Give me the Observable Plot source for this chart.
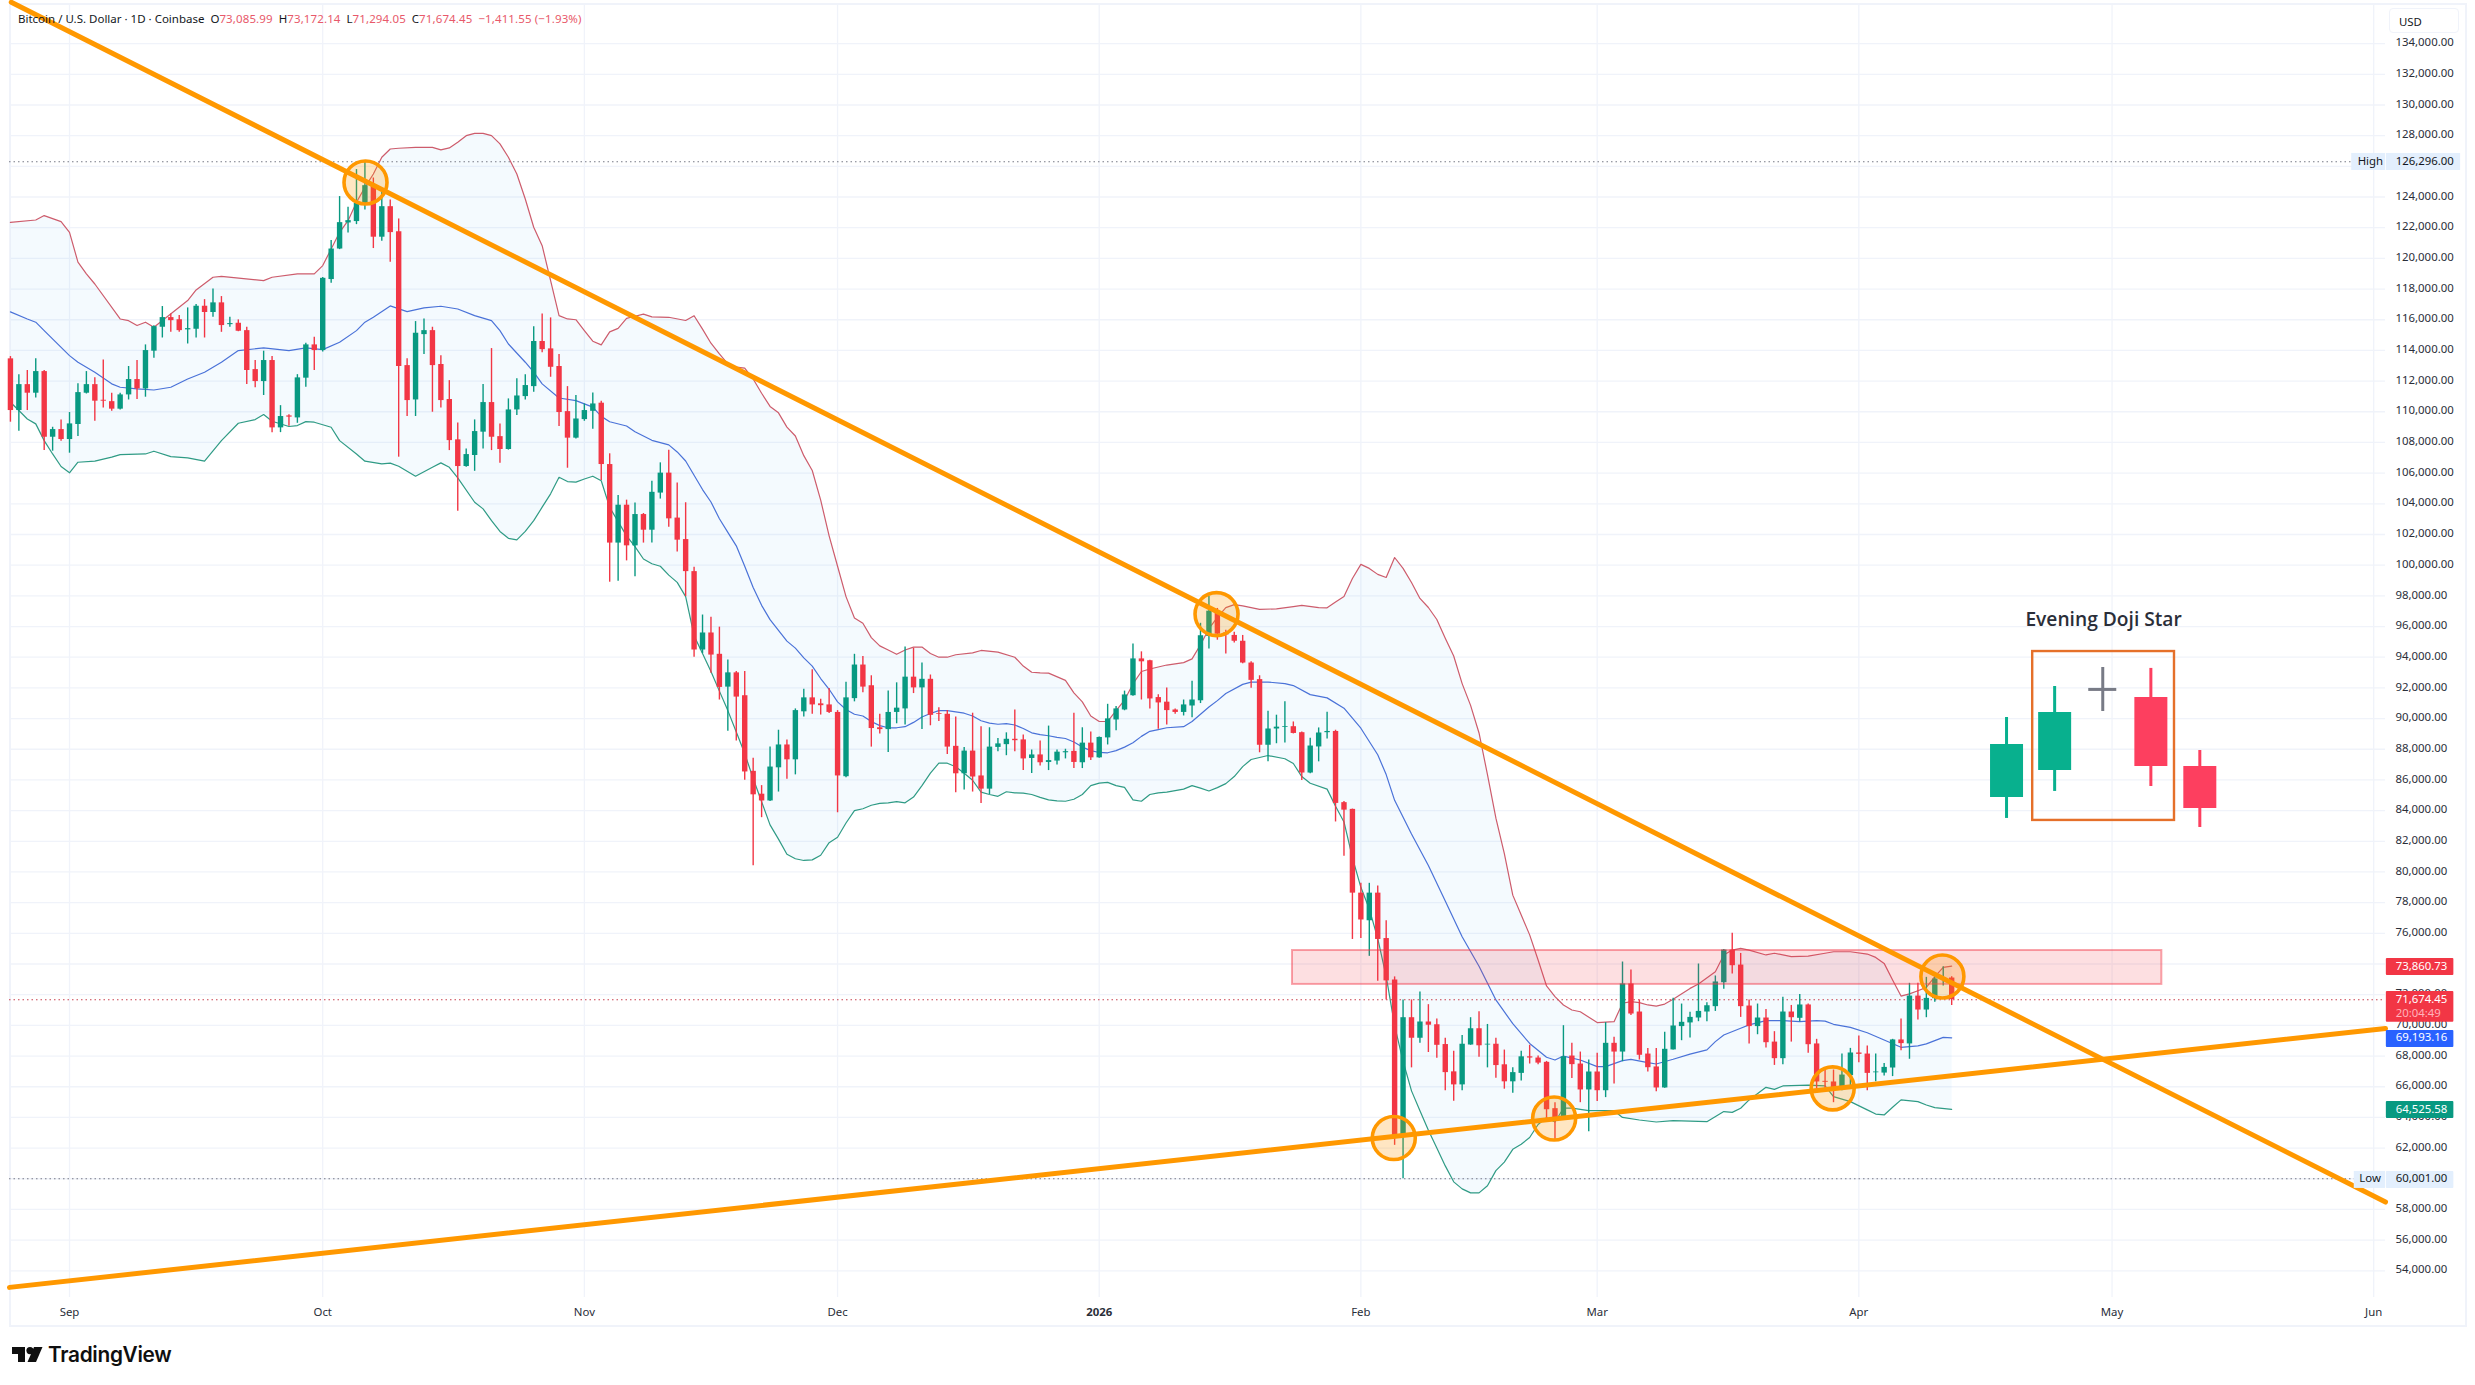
<!DOCTYPE html>
<html><head><meta charset="utf-8">
<script src="https://cdn.jsdelivr.net/npm/d3@7"></script>
<script src="https://cdn.jsdelivr.net/npm/@observablehq/plot@0.6"></script>
<style>
html,body{margin:0;padding:0;background:#fff;width:2475px;height:1385px;overflow:hidden;font-family:"Noto Sans",sans-serif}
#frame{position:absolute;left:9px;top:3px;width:2454px;height:1320px;border:2px solid #f0f3fa;box-sizing:content-box}
#chart{position:absolute;left:0;top:0}
#legend{position:absolute;left:18px;top:11px;font-size:11.5px;line-height:16px;color:#131722;white-space:pre}
#legend .v{color:#e8596a;letter-spacing:.12px}
#usd{position:absolute;left:2389px;top:8px;width:70px;height:25px;background:#fff;border:1px solid #f0f3fa;border-radius:4px;font-size:11.4px;line-height:25px;color:#131722;box-sizing:border-box;padding-left:9px}
#brand{position:absolute;left:48px;top:1341px;font-family:Inter,sans-serif;font-weight:600;font-size:20.8px;line-height:28px;color:#0f0f0f;letter-spacing:-.3px}
#logo{position:absolute;left:12px;top:1347px}
</style></head><body>
<div id="frame"></div>
<div id="chart"></div>
<div id="legend">Bitcoin / U.S. Dollar · 1D · Coinbase  O<span class="v">73,085.99</span>  H<span class="v">73,172.14</span>  L<span class="v">71,294.05</span>  C<span class="v">71,674.45</span>  <span class="v">−1,411.55 (−1.93%)</span></div>
<div id="usd">USD</div>
<svg id="logo" width="31" height="16" viewBox="0 0 31 16"><path d="M0 0H13V15H6V7H0Z" fill="#0f0f0f"/><circle cx="18" cy="3.6" r="3.6" fill="#0f0f0f"/><path d="M22 0H30.5L24 15H15.5Z" fill="#0f0f0f"/></svg>
<div id="brand">TradingView</div>
<script>
// Prices in thousands of USD. Days count from 2025-09-01; candles run day -7 to day 223.
const firstCandleDay = -7;
const open = [
113.45,110.08,111.77,111.21,112.62,108.34,108.84,108.19,109.17,111.21,
111.77,110.75,110.66,110.17,111.10,112.10,111.49,113.95,115.51,116.14,
116.00,115.34,115.38,116.88,116.47,117.10,115.68,115.77,115.29,112.75,
111.97,113.34,108.95,109.73,109.60,112.19,114.36,113.99,118.62,120.61,
122.31,122.40,123.50,124.74,121.38,123.37,121.74,113.01,110.77,115.03,
115.29,113.08,110.80,108.17,106.43,107.15,108.67,110.60,108.38,107.54,
110.12,110.99,111.64,114.58,114.10,112.95,110.01,108.28,109.49,110.03,
110.56,106.56,101.44,103.91,101.26,103.30,102.28,104.70,106.00,103.07,
101.67,99.58,94.47,95.58,94.19,92.05,92.98,91.49,86.56,85.07,
84.63,86.79,88.28,87.31,90.44,91.35,90.96,90.89,90.40,86.21,
91.30,93.49,92.14,89.40,89.28,90.40,90.63,92.70,92.00,92.56,
90.33,90.28,88.19,86.40,87.88,86.26,85.40,88.12,88.30,88.65,
88.61,87.40,87.63,87.14,87.23,87.77,87.86,87.12,88.40,87.44,
88.74,89.91,90.56,91.49,93.89,93.77,91.37,91.07,90.56,90.40,
90.82,91.16,95.35,96.97,95.58,95.42,95.04,93.62,92.54,88.26,
89.32,89.42,89.47,89.08,86.45,88.15,89.08,89.16,84.52,84.08,
78.62,76.82,78.62,75.66,72.95,62.69,70.50,69.16,70.22,70.04,
68.75,66.97,66.12,68.72,69.78,68.72,68.77,67.43,66.32,66.87,
67.95,67.87,67.59,64.57,63.98,68.00,67.48,65.79,66.96,65.74,
68.83,68.26,72.70,70.87,68.13,67.29,65.92,68.40,69.92,70.16,
70.48,70.87,71.22,72.78,74.91,73.93,71.26,69.92,70.48,68.91,
67.83,70.87,70.46,71.33,68.79,66.35,66.31,65.90,66.72,68.20,
68.13,66.91,66.89,67.22,69.05,68.79,71.91,71.00,71.74,73.00,
73.086];
const high = [
113.60,112.42,112.69,113.45,112.69,108.99,109.47,109.95,111.82,112.62,
112.21,113.38,111.21,111.21,112.95,113.34,114.36,115.60,116.86,116.38,
116.27,116.77,116.99,117.31,118.01,117.51,116.16,115.99,115.51,113.34,
113.95,113.60,110.40,109.80,112.42,114.47,114.86,118.75,121.16,124.03,
123.33,125.79,126.296,125.24,124.31,123.81,122.57,113.45,115.88,116.05,
115.51,113.66,112.03,109.27,107.58,109.47,111.77,114.12,109.21,110.84,
112.16,112.42,115.55,116.38,116.12,113.73,111.64,111.06,110.51,111.23,
110.68,107.26,104.54,104.24,104.05,103.37,105.47,106.67,107.49,105.35,
104.07,99.86,96.75,96.61,95.96,93.82,93.07,93.07,87.42,85.63,
88.14,89.24,88.61,90.63,91.91,93.19,91.26,91.96,90.52,92.37,
94.19,94.05,92.79,90.28,91.79,92.33,94.66,94.58,93.63,92.84,
90.70,90.52,90.10,88.12,90.35,89.47,89.40,88.70,89.07,90.56,
88.93,87.95,88.54,89.51,87.95,88.00,90.35,89.40,89.12,88.80,
90.93,90.79,91.79,94.86,94.35,93.80,91.56,92.00,90.63,91.21,
92.44,96.21,97.95,97.18,95.76,95.63,95.42,93.70,92.79,90.47,
90.22,91.09,89.78,89.13,88.72,89.39,90.42,89.24,84.60,84.10,
79.26,79.26,79.08,76.82,73.16,71.66,71.66,72.18,71.35,70.42,
69.16,68.31,69.34,70.50,70.89,70.06,69.16,68.39,67.23,68.31,
68.70,68.00,67.65,64.96,69.98,68.83,68.26,67.74,68.18,70.18,
69.22,74.13,73.61,71.65,68.50,68.50,69.55,71.76,71.39,70.85,
74.00,71.48,73.22,74.95,76.00,74.69,71.65,71.39,71.04,69.59,
71.83,71.30,72.02,71.39,69.09,67.20,67.09,68.13,68.50,69.31,
68.65,68.13,67.52,69.09,70.41,72.74,72.74,73.13,73.43,73.82,
73.172];
const low = [
109.32,108.73,110.08,110.90,107.47,107.43,108.08,107.30,108.38,111.16,
109.38,110.25,110.03,110.12,110.77,110.80,110.95,113.49,114.81,115.18,
115.18,114.42,114.81,114.81,116.16,115.18,115.51,115.22,111.77,111.56,
111.06,108.64,108.64,109.06,109.25,111.60,112.69,113.90,118.38,120.57,
121.66,122.20,123.16,120.64,121.11,119.75,107.04,109.69,109.69,113.73,
109.97,110.25,107.47,103.52,106.38,106.12,107.58,107.47,106.65,107.50,
109.75,110.77,111.27,113.84,112.25,109.04,106.32,108.23,109.38,108.86,
105.52,98.89,98.96,100.28,99.24,101.44,101.44,104.31,102.47,100.86,
97.95,94.00,94.24,92.96,91.21,89.17,88.54,85.98,80.40,83.54,
84.60,85.21,86.05,86.33,90.10,90.28,90.23,90.33,83.86,86.15,
91.09,91.68,88.14,89.00,87.79,89.66,89.58,91.63,89.28,89.53,
89.81,87.65,85.16,85.35,85.21,84.47,85.05,87.84,87.58,87.84,
86.61,86.42,86.91,86.61,86.98,87.37,86.74,86.74,87.26,87.42,
88.28,89.21,90.51,91.45,91.21,90.63,89.30,89.58,90.28,90.17,
90.05,90.98,94.54,95.11,94.21,94.93,93.57,91.97,87.77,87.18,
88.36,88.41,89.00,85.96,86.40,87.18,88.67,83.26,81.02,75.60,
75.66,74.50,72.87,71.66,62.18,60.001,67.23,68.83,68.23,67.85,
65.73,65.06,65.73,68.70,67.92,67.23,66.56,65.84,65.58,66.38,
67.48,67.43,63.80,62.43,63.87,66.53,64.96,63.07,65.03,65.29,
66.18,67.63,70.65,67.74,66.96,65.68,65.90,68.40,69.00,69.18,
70.24,70.24,70.91,72.35,73.35,70.52,68.79,69.39,68.52,67.39,
67.44,68.91,70.24,68.18,65.57,65.74,64.96,65.74,65.90,67.57,
65.74,66.33,66.70,66.66,68.35,67.79,70.35,70.50,71.50,72.57,
71.294];
const close = [
110.08,111.77,111.21,112.62,108.34,108.84,108.19,109.21,111.25,111.77,
110.69,110.69,110.17,111.10,112.10,111.49,113.99,115.55,116.14,115.94,
115.29,115.42,116.88,116.47,117.10,115.62,115.75,115.25,112.69,111.97,
113.34,108.95,109.69,109.65,112.21,114.36,113.99,118.70,120.61,122.33,
122.46,123.59,124.74,121.38,123.37,121.68,112.95,110.73,115.12,115.29,
113.01,110.73,108.12,106.43,107.21,108.71,110.60,108.34,107.54,110.12,
111.03,111.71,114.58,114.05,112.90,109.95,108.28,109.53,110.08,110.51,
106.56,101.44,103.91,101.26,103.30,102.28,104.75,106.00,103.02,101.63,
99.58,94.47,95.58,94.14,92.03,92.98,91.40,86.52,85.03,84.63,
86.84,88.28,87.31,90.52,91.35,90.89,90.84,90.40,86.26,91.35,
93.49,92.05,89.35,89.28,90.40,90.68,92.70,92.00,92.56,90.21,
90.28,88.14,86.40,87.88,86.19,85.40,88.14,88.35,88.65,88.56,
87.37,87.63,87.12,87.26,87.81,87.84,87.14,88.40,87.44,88.77,
89.98,90.63,91.54,93.89,93.70,91.28,91.02,90.52,90.40,90.89,
91.21,95.40,97.00,95.50,95.45,95.04,93.62,92.49,88.26,89.32,
89.44,89.47,89.03,86.45,88.21,89.06,89.16,84.47,84.03,78.62,
76.87,78.62,75.60,72.90,62.69,70.50,69.16,70.22,70.01,68.70,
66.92,66.12,68.77,69.78,68.67,68.77,67.38,66.32,66.92,67.95,
67.87,67.54,64.50,63.98,67.95,67.44,65.79,66.96,65.74,68.83,
68.26,72.70,70.74,68.05,67.24,65.92,68.44,69.96,70.20,70.52,
70.91,71.28,72.83,74.91,73.89,71.22,69.92,70.48,68.87,67.83,
70.87,70.50,71.33,68.74,66.31,66.29,65.90,66.76,68.20,68.11,
66.87,66.96,67.26,69.05,68.81,71.91,71.00,71.76,73.02,73.09,
71.674];

const upperDays = [-7,-4,-3,-1,0,1,2,3,6,7,8,9,10,14,15,17,18,23,24,27,29,30,31,32,33,34,35,36,37,38,39,41,43,44,45,46,47,48,49,50,51,52,53,54,55,56,57,58,59,60,61,62,63,64,65,66,67,68,69,71,73,74,75,76,77,78,79,80,81,82,83,84,85,86,87,88,89,90,91,92,93,94,95,96,97,98,99,100,101,102,103,104,105,107,108,110,112,113,114,115,116,118,119,120,121,122,123,124,125,126,127,128,130,132,133,134,135,136,137,138,139,141,143,145,146,148,149,150,151,152,153,154,155,156,157,158,159,160,161,162,163,164,165,166,167,168,169,170,171,172,173,174,175,176,177,178,179,181,183,184,185,186,187,188,189,190,192,193,195,196,197,198,199,201,202,204,206,208,209,211,213,214,215,216,217,218,219,220,221,222,223];
const upperBand = [122.35,122.5,122.79,122.4,121.7,119.75,118.99,118.33,116.05,115.94,115.62,115.84,115.51,117.25,117.94,118.77,118.83,118.55,118.77,118.99,118.99,119.53,120.61,121.7,122.46,123.66,124.63,125.5,126.59,127.13,127.18,127.24,127.24,127.07,127.2,127.57,128,128.15,128.15,128,127.46,126.59,125.5,123.87,122.03,120.83,118.55,116.27,116.05,116.0,115.29,114.6,114.36,115.21,115.44,116.09,116.23,116.37,116.19,116.16,115.95,116.26,115.39,114.47,113.77,113.12,112.91,112.84,112.14,111.21,110.35,109.93,109.0,108.42,107.14,106.17,104.24,101.91,99.93,97.95,96.56,96.21,95.28,94.74,94.47,94.19,94.47,94.66,94.66,94.24,94.0,94.0,94.16,94.28,94.44,94.33,94.0,93.42,93.02,92.98,92.96,92.49,91.68,91.09,90.17,89.81,89.81,90.52,91.21,92.26,93.07,93.23,93.49,93.65,93.89,94.81,95.86,96.6,97.23,97.43,97.35,97.12,97.15,97.3,97.38,97.23,97.22,97.6,97.96,99.13,100.05,99.79,99.4,99.2,100.5,99.79,98.87,97.83,97.24,96.46,95.24,94.08,92.28,90.86,89.06,86.35,83.51,81.2,78.49,77.2,75.9,74.26,72.57,71.87,71.33,71.0,70.89,70.18,70.24,71.44,71.55,71.48,71.33,71.26,71.39,71.7,72.41,72.7,73.5,74.59,74.91,75.02,74.91,74.59,74.7,74.48,74.52,74.7,74.8,74.8,74.65,74.43,74.04,72.96,71.91,72.05,72.26,72.48,73.18,73.78,73.86];
const midDays = [-7,-5,-4,-3,0,1,3,5,6,8,10,12,14,16,18,20,23,26,28,30,32,34,35,36,38,40,42,44,46,48,50,51,52,54,55,56,58,60,62,63,64,66,67,69,71,72,73,74,75,76,77,78,79,80,81,82,83,84,85,86,87,88,89,90,91,92,93,94,95,96,97,98,99,100,101,102,103,104,105,106,107,108,109,110,111,112,113,114,115,116,117,118,119,120,121,122,123,124,125,126,127,128,129,130,132,133,134,135,136,137,139,140,142,144,145,147,149,151,153,155,156,157,159,161,163,165,167,169,171,173,175,176,177,179,181,182,184,185,187,188,190,192,194,195,196,198,199,201,203,205,207,208,209,211,213,215,217,219,220,222,223];
const midBand = [116.51,116.05,115.84,115.29,113.66,113.23,112.58,111.82,111.6,111.49,111.42,111.6,112.14,112.58,113.23,113.99,114.16,113.99,114.16,114.05,114.53,115.29,115.84,116.16,116.9,116.53,116.77,116.88,116.7,116.27,115.94,115.29,114.42,113.23,112.58,111.82,110.9,110.73,110.3,109.7,109.35,109.07,108.7,108.14,107.84,107.38,106.79,105.86,104.93,104.12,103.03,102.14,101.26,99.93,98.54,97.38,96.45,95.75,95.05,94.59,93.96,93.42,92.61,91.91,91.09,90.59,90.28,90.17,89.81,89.54,89.4,89.4,89.47,89.75,90.1,90.33,90.52,90.52,90.44,90.35,90.17,89.86,89.7,89.63,89.67,89.58,89.35,89.07,88.95,88.88,88.77,88.7,88.47,88.14,87.91,87.79,87.77,87.91,88.14,88.42,88.84,89.17,89.28,89.4,89.47,89.81,90.28,90.75,91.17,91.63,92.23,92.38,92.38,92.28,92.15,91.56,91.35,90.68,89.37,87.64,86.35,84.67,82.48,80.42,78.1,75.78,73.85,71.66,70.11,68.82,67.92,67.74,68.0,67.74,67.31,67.31,67.7,67.78,67.57,67.48,67.79,68.13,68.4,68.94,69.37,69.81,70.03,70.31,70.31,70.24,70.31,70.28,70.07,69.87,69.52,69.05,68.57,68.66,68.79,69.22,69.19];
const lowerDays = [-7,-6,-5,-4,-3,-2,-1,0,1,3,5,6,9,10,12,14,16,18,20,22,23,24,26,27,28,29,31,32,34,35,37,38,39,41,43,44,45,46,48,49,50,51,52,53,54,55,56,57,58,59,60,61,62,63,64,65,66,67,68,69,70,71,72,73,74,75,76,77,78,79,80,81,82,83,84,85,86,87,88,89,90,91,92,93,94,95,96,97,98,99,100,101,102,103,104,105,106,107,108,109,110,111,112,113,114,115,116,117,118,119,120,121,122,123,124,125,126,127,128,129,130,132,133,134,135,136,137,138,139,140,142,144,145,146,147,149,150,151,152,153,154,155,156,157,158,159,160,161,162,163,164,165,166,167,168,169,170,171,172,173,174,175,176,177,178,180,183,184,186,188,190,194,196,197,198,199,201,202,203,206,208,209,211,213,214,215,216,217,219,220,221,223];
const lowerBand = [110.62,110.08,109.53,109.21,108.12,107.25,106.43,106.02,106.71,106.78,107.04,107.21,107.25,107.43,107.08,107.0,106.78,108.12,109.25,109.49,109.82,109.38,109.04,109.1,109.36,109.32,108.99,108.12,107.25,106.78,106.6,106.65,106.45,105.8,106.38,106.67,106.38,105.69,104.1,103.67,102.9,102.2,101.75,101.65,102.2,102.9,103.78,104.65,105.73,105.45,105.41,105.62,105.8,105.5,103.77,102.84,101.91,101.21,100.4,100.09,99.93,99.35,98.88,97.95,95.4,94.24,93.07,91.79,90.52,89.12,87.72,86.09,84.58,83.07,82.14,81.15,80.86,80.75,80.79,81.09,81.91,82.26,83.19,84.0,84.12,84.35,84.47,84.51,84.58,84.51,84.88,85.63,86.44,87.09,87.09,86.86,86.44,85.98,85.21,85.05,84.93,85.23,85.16,85.14,85.05,84.86,84.7,84.63,84.61,84.74,85.05,85.63,85.79,85.84,85.63,85.51,84.7,84.61,85.05,85.16,85.21,85.4,85.63,85.47,85.28,85.5,85.76,86.22,86.87,87.33,87.59,87.38,87.07,86.22,85.78,85.4,84.29,83.26,80.94,79.0,77.59,75.65,73.2,69.99,67.66,65.73,64.44,63.16,62.0,60.84,59.8,59.34,59.08,59.08,59.55,60.53,61.09,61.92,62.25,62.69,63.54,63.98,63.7,64.6,64.6,64.44,64.44,64.0,63.83,63.7,63.79,63.72,64.38,64.33,64.6,65.14,65.96,65.83,66.05,66.11,66.05,65.35,65.03,64.49,64.22,64.16,64.66,65.14,65.03,64.81,64.64,64.53];

const trendDays = [-6.9, 274.4];
const fallingTrend = [136.7, 58.48];
const risingTrend = [52.92, 69.8];
const circleDays = [35.07,135.9,156.9,175.9,208.9,221.9];
const circlePrices = [124.95,96.81,62.66,63.93,65.89,73.19];
const zoneDays = [144.9, 247.9];
const zonePrices = [72.67, 74.88];

const insetDays = [229.5,235.2,240.9,246.6,252.4];
const insetOpen = [84.86,86.62,91.9,91.38,86.88];
const insetHigh = [90.07,92.09,93.33,93.27,87.92];
const insetLow = [83.49,85.25,90.46,85.57,82.9];
const insetClose = [88.31,90.4,91.9,86.88,84.14];
const insetBoxDays = [232.6, 249.4];
const insetBoxPrices = [83.36, 94.37];
const insetTitle = "Evening Doji Star";

const priceTicks = d3.range(54, 136, 2);
const monthLabels = [["2025-09-01","Sep"],["2025-10-01","Oct"],["2025-11-01","Nov"],["2025-12-01","Dec"],["2026-02-01","Feb"],["2026-03-01","Mar"],["2026-04-01","Apr"],["2026-05-01","May"],["2026-06-01","Jun"]];
const yearLabel = [["2026-01-01","2026"]];

const lastTags = [
 {p:73.86, top:74.36, bot:73.25, text:"73,860.73", fill:"#f23645", color:"#fff"},
 {p:71.674, top:72.2, bot:70.2, text:"71,674.45", fill:"#f23645", color:"#fff", shift:-1},
 {p:69.19, top:69.67, bot:68.56, text:"69,193.16", fill:"#2962ff", color:"#fff"},
 {p:64.53, top:65.04, bot:63.93, text:"64,525.58", fill:"#089981", color:"#fff"},
 {p:60.001, top:60.48, bot:59.37, text:"60,001.00", fill:"#e3effd", color:"#131722"}
];
const highTag = {p:126.296, top:126.84, bot:125.73, text:"126,296.00", fill:"#e3effd", color:"#131722"};

const DAY = 864e5, T0 = Date.UTC(2025,8,1);
const day = n => new Date(T0 + n*DAY);
const GREEN="#089981", RED="#f23645", ORANGE="#ff9800";
const candles = open.map((o,i)=>({t:day(firstCandleDay+i),o,h:high[i],l:low[i],c:close[i],col:close[i]>=o?GREEN:RED}));
const zip = (ds,vs)=>ds.map((d,i)=>({t:day(d),v:vs[i]}));
const upperPts=zip(upperDays,upperBand), midPts=zip(midDays,midBand), lowerPts=zip(lowerDays,lowerBand);
const bandPoly=[...upperPts,...[...lowerPts].reverse()];
const inset=insetDays.map((d,i)=>({t:day(d),o:insetOpen[i],h:insetHigh[i],l:insetLow[i],c:insetClose[i]}));
const insetCol=d=>d.c>d.o?"#08b08e":d.c<d.o?"#fd3f5f":"#787b86";
const FS=11.4, FF='"Noto Sans",sans-serif';
const dA=274.5,dB=282.5;

const chart = Plot.plot({
  width:2475,height:1385,marginLeft:9,marginRight:90,marginTop:4,marginBottom:88,
  style:{background:"transparent",fontFamily:FF,fontSize:FS+"px",color:"#131722"},
  x:{type:"utc",domain:[day(-7.11),day(274.4)]},
  y:{domain:[52.26,136.55],type:"linear"},
  color:{type:"identity"},
  marks:[
    Plot.gridY(priceTicks,{stroke:"#f0f3fa",strokeOpacity:1,strokeWidth:1.3}),
    Plot.gridX([...monthLabels,...yearLabel].map(m=>new Date(m[0])),{stroke:"#f0f3fa",strokeOpacity:1,strokeWidth:1.3}),
    Plot.axisY({anchor:"right",ticks:priceTicks,tickSize:0,tickPadding:10,label:null,fill:"#2a2e39",dy:-1,
      tickFormat:v=>d3.format(",")(v*1000)+".00",fontSize:FS}),
    Plot.axisX({ticks:monthLabels.map(m=>new Date(m[0])),anchor:"bottom",tickSize:0,tickPadding:10,label:null,fill:"#2a2e39",
      tickFormat:v=>monthLabels.find(m=>+new Date(m[0])===+v)[1],fontSize:FS}),
    Plot.axisX({ticks:yearLabel.map(m=>new Date(m[0])),anchor:"bottom",tickSize:0,tickPadding:10,label:null,fill:"#2a2e39",
      tickFormat:()=>yearLabel[0][1],fontSize:FS,fontWeight:"bold"}),
    Plot.line(bandPoly,{x:"t",y:"v",fill:"#2196f3",fillOpacity:0.05,stroke:"none"}),
    Plot.line(upperPts,{x:"t",y:"v",stroke:"#cd5c6c",strokeWidth:1.2}),
    Plot.line(midPts,{x:"t",y:"v",stroke:"#4a72d8",strokeWidth:1.2}),
    Plot.line(lowerPts,{x:"t",y:"v",stroke:"#2f9b85",strokeWidth:1.2}),
    Plot.ruleY([126.296],{x1:day(-7.11),x2:day(270.4),stroke:"#787b86",strokeDasharray:"1.5 3",strokeWidth:1.1}),
    Plot.ruleY([60.001],{x1:day(-7.11),x2:day(270.7),stroke:"#787b86",strokeDasharray:"1.5 3",strokeWidth:1.1}),
    Plot.ruleY([71.674],{x1:day(-7.11),x2:day(274.4),stroke:"#c8404f",strokeDasharray:"1.5 3",strokeWidth:1.1}),
    Plot.ruleX(candles,{x:"t",y1:"l",y2:"h",stroke:"col",strokeWidth:1.4}),
    Plot.ruleX(candles,{x:"t",y1:"o",y2:"c",stroke:"col",strokeWidth:5.4}),
    Plot.rect([0],{x1:day(zoneDays[0]),x2:day(zoneDays[1]),y1:zonePrices[0],y2:zonePrices[1],fill:RED,fillOpacity:.16,stroke:RED,strokeOpacity:.45,strokeWidth:2}),
    Plot.line([{t:day(trendDays[0]),v:fallingTrend[0]},{t:day(trendDays[1]),v:fallingTrend[1]}],{x:"t",y:"v",stroke:ORANGE,strokeWidth:5}),
    Plot.line([{t:day(-7.11),v:risingTrend[0]},{t:day(trendDays[1]),v:risingTrend[1]}],{x:"t",y:"v",stroke:ORANGE,strokeWidth:5}),
    Plot.dot(circleDays.map((d,i)=>({t:day(d),v:circlePrices[i]})),{x:"t",y:"v",r:21.5,fill:ORANGE,fillOpacity:.24,stroke:ORANGE,strokeWidth:3.6}),
    // inset pattern
    Plot.rect([0],{x1:day(insetBoxDays[0]),x2:day(insetBoxDays[1]),y1:insetBoxPrices[0],y2:insetBoxPrices[1],fill:"none",stroke:"#e5702a",strokeWidth:2.4}),
    Plot.ruleX(inset,{x:"t",y1:"l",y2:"h",stroke:insetCol,strokeWidth:3}),
    Plot.ruleX(inset.filter(d=>d.o!==d.c),{x:"t",y1:"o",y2:"c",stroke:insetCol,strokeWidth:33}),
    Plot.ruleY(inset.filter(d=>d.o===d.c),{y:"o",x1:d=>new Date(+d.t-1.66*DAY),x2:d=>new Date(+d.t+1.66*DAY),stroke:"#787b86",strokeWidth:3}),
    Plot.text([insetTitle],{x:day(241),y:96.46,text:d=>d,fontSize:19.2,fontWeight:600,fontFamily:'"Open Sans",sans-serif',fill:"#2a2e39"}),
    // price tags
    Plot.rect(lastTags,{x1:day(dA),x2:day(dB),y1:"bot",y2:"top",fill:"fill",rx:1}),
    Plot.rect([highTag],{x1:day(dA),x2:day(283.3),y1:"bot",y2:"top",fill:"fill"}),
    Plot.rect([highTag],{x1:day(270.4),x2:day(274.4),y1:"bot",y2:"top",fill:"fill"}),
    Plot.rect([lastTags[4]],{x1:day(270.7),x2:day(274.4),y1:"bot",y2:"top",fill:"fill"}),
    Plot.text([...lastTags,highTag],{x:day(275.6),y:d=>d.p+(d.shift?0.02:0),text:"text",fill:"color",textAnchor:"start",fontSize:FS}),
    Plot.text(["20:04:49"],{x:day(275.6),y:70.78,text:d=>d,fill:"#ffb3ba",textAnchor:"start",fontSize:FS}),
    Plot.text(["High"],{x:day(271.1),y:126.296,text:d=>d,fill:"#131722",textAnchor:"start",fontSize:FS}),
    Plot.text(["Low"],{x:day(271.3),y:60.001,text:d=>d,fill:"#131722",textAnchor:"start",fontSize:FS})
  ]
});
document.getElementById("chart").appendChild(chart);
</script>
</body></html>
